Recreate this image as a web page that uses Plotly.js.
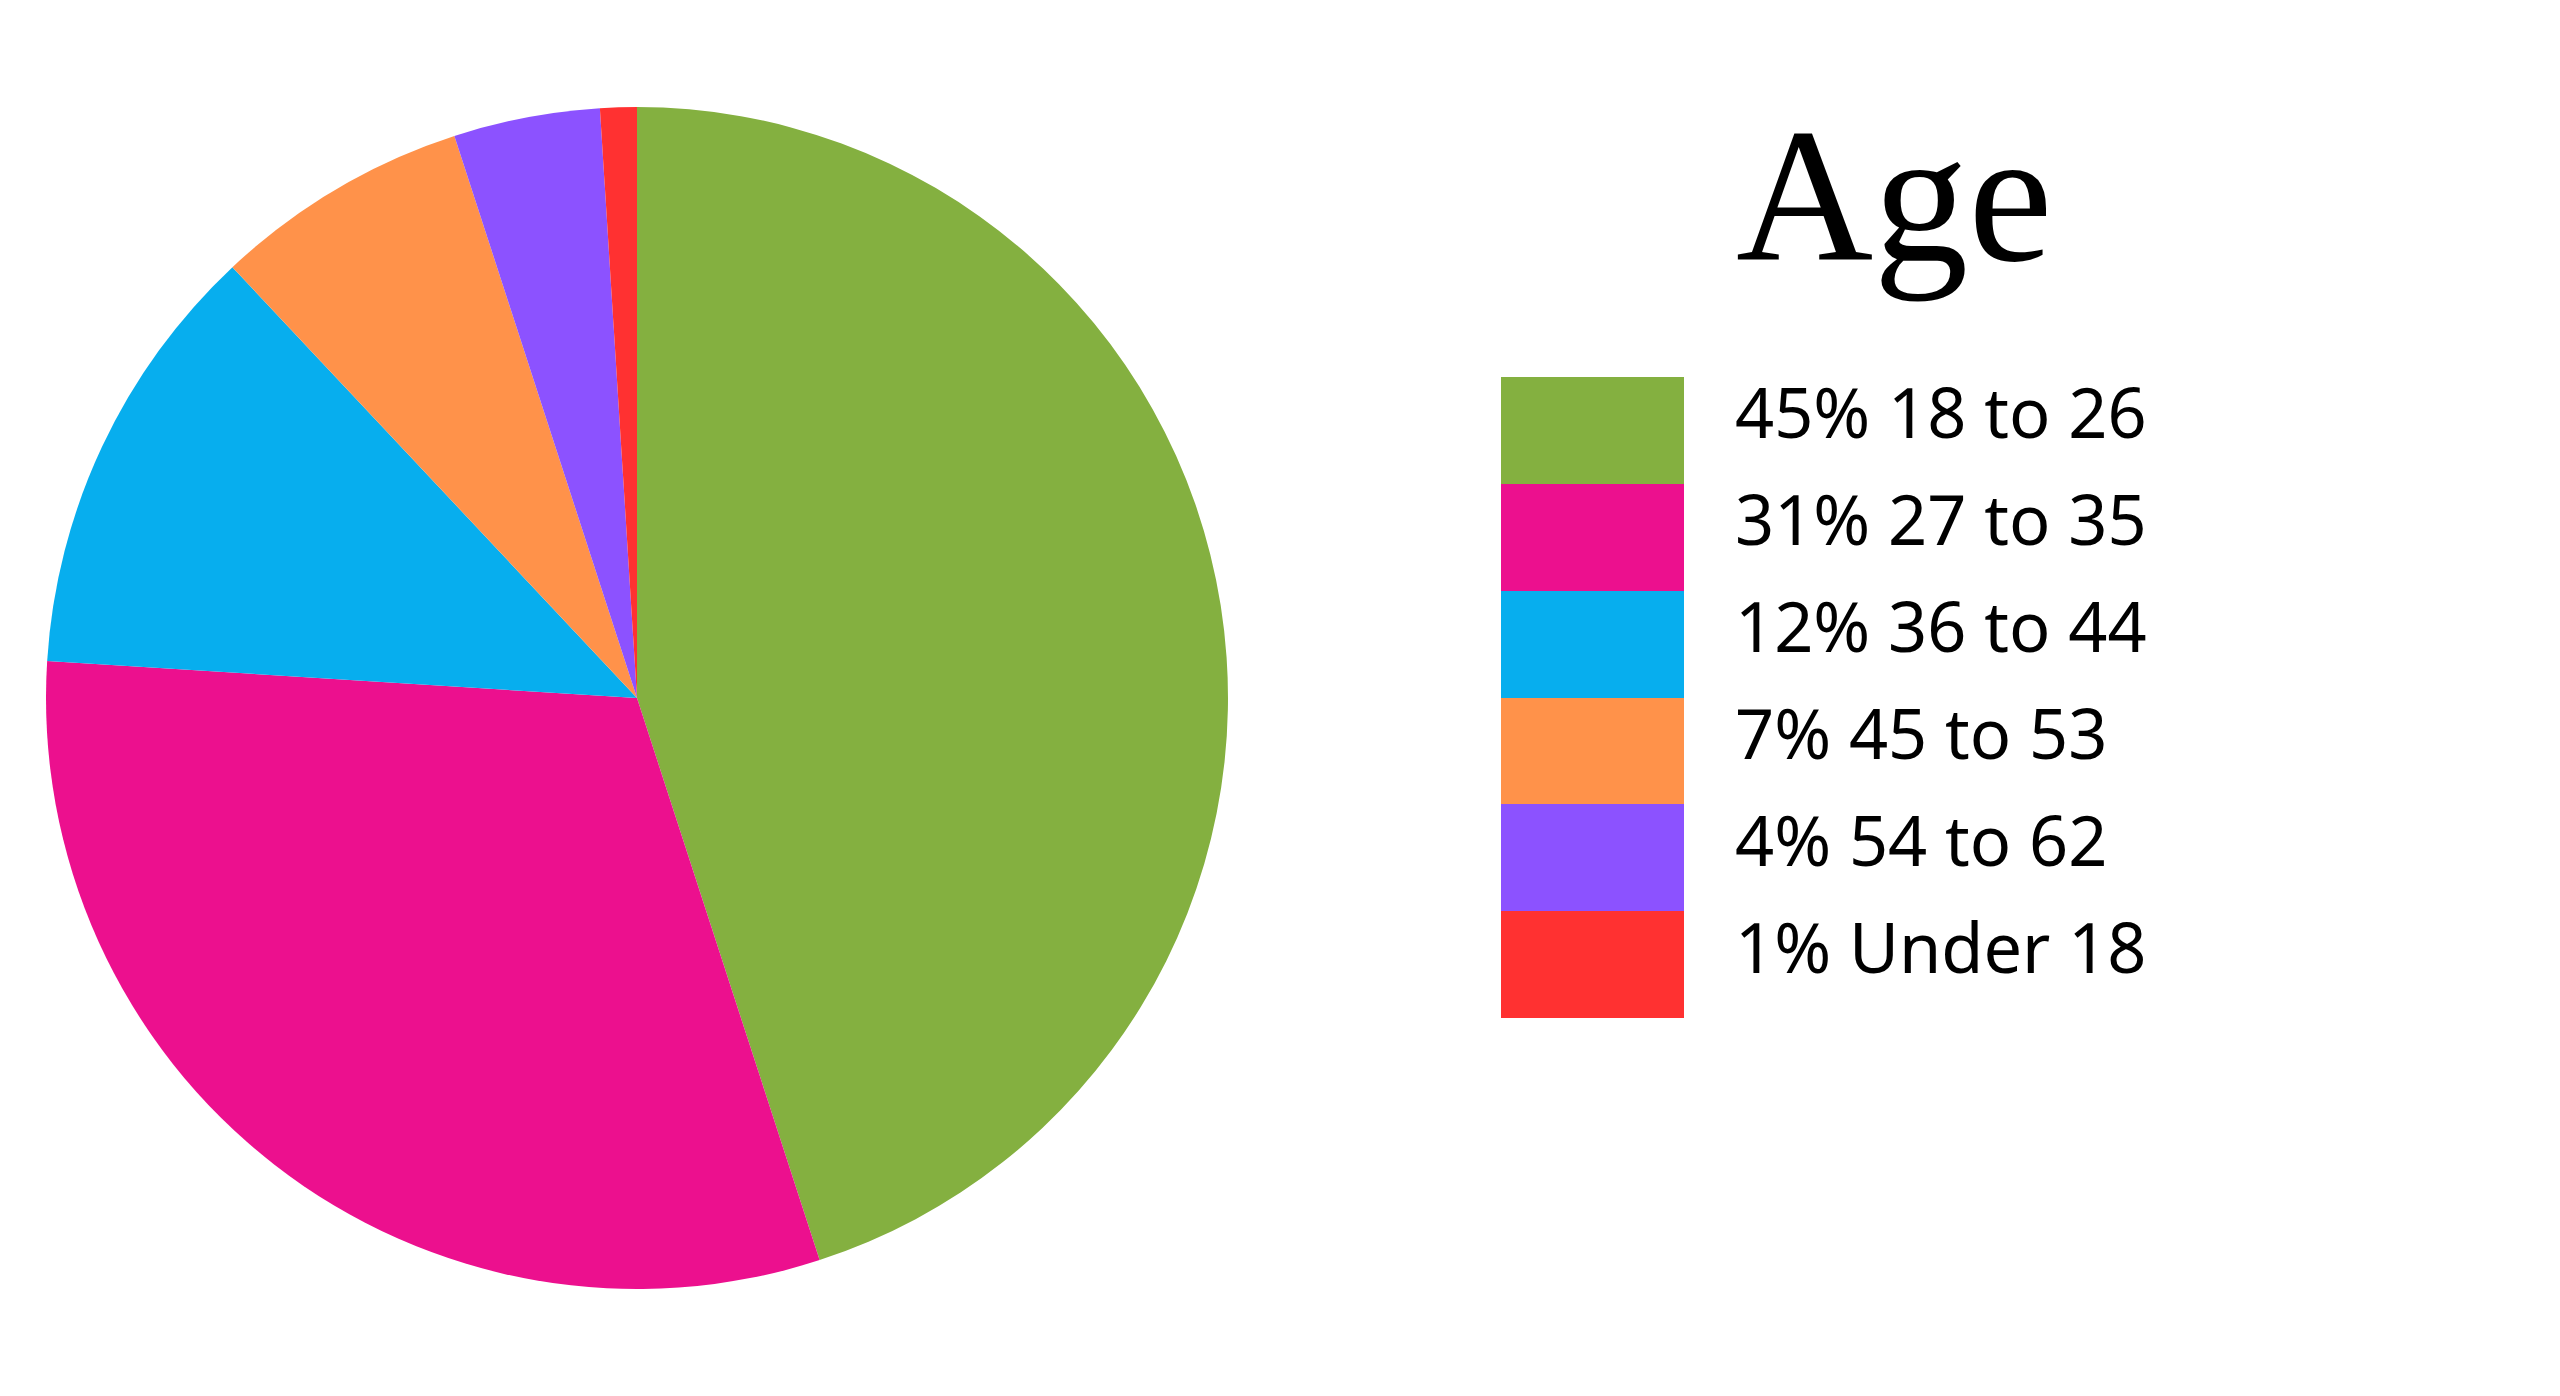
<!DOCTYPE html>
<html>
<head>
<meta charset="utf-8">
<script src="https://cdn.plot.ly/plotly-3.0.1.min.js"></script>
<style>html,body{margin:0;padding:0;background:#fff;}#chart{width:2560px;height:1396px;}</style>
</head>
<body>
<div id="chart"></div>
<script>
const categories = ["18 to 26", "27 to 35", "36 to 44", "45 to 53", "54 to 62", "Under 18"];
const percents = [45, 31, 12, 7, 4, 1];
const colors = ["#84B040", "#EC108E", "#07AEEE", "#FF924A", "#8C52FF", "#FF3131"];
const legendTitle = "Age";

const legendLabels = categories.map((c, i) => percents[i] + "% " + c);

const pie = {
  type: "pie",
  values: percents,
  labels: categories,
  sort: false,
  direction: "clockwise",
  rotation: 0,
  textinfo: "none",
  hoverinfo: "none",
  marker: {colors: colors, line: {width: 0}},
  showlegend: false,
  domain: {x: [46/2560, 1228/2560], y: [107/1396, 1289/1396]}
};

const legendBars = {
  type: "bar",
  orientation: "h",
  x: categories.map(() => 1),
  y: legendLabels,
  width: 1,
  marker: {color: colors, line: {width: 0}},
  hoverinfo: "none",
  showlegend: false,
  xaxis: "x",
  yaxis: "y"
};

const layout = {
  width: 2560,
  height: 1396,
  margin: {l: 0, r: 0, t: 0, b: 0},
  paper_bgcolor: "#ffffff",
  plot_bgcolor: "#ffffff",
  showlegend: false,
  bargap: 0,
  xaxis: {domain: [1501/2560, 1684/2560], range: [0, 1], visible: false, fixedrange: true},
  yaxis: {
    domain: [378/1396, 1019/1396],
    autorange: "reversed",
    type: "category",
    side: "right",
    showgrid: false, zeroline: false, showline: false, ticks: "",
    ticklabelstandoff: 50,
    ticklabelshift: 16,
    tickfont: {family: "Noto Sans", size: 68.5, color: "#000000"},
    fixedrange: true
  },
  annotations: [{
    text: legendTitle,
    xref: "paper", yref: "paper",
    x: 1734/2560, y: 1 - 304/1396,
    xanchor: "left", yanchor: "bottom",
    showarrow: false,
    font: {family: "Liberation Serif", size: 190, color: "#000000"}
  }]
};

Plotly.newPlot("chart", [pie, legendBars], layout, {displayModeBar: false, staticPlot: true});
</script>
</body>
</html>
